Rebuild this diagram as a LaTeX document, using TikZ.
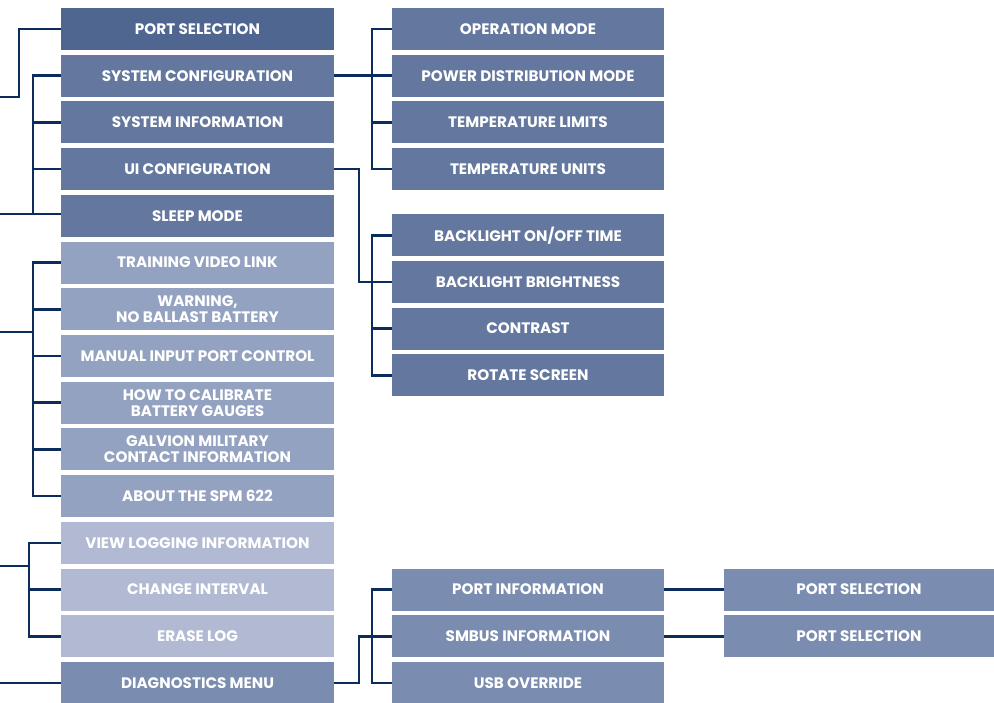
\documentclass[tikz,border=0pt]{standalone}
\usepackage{fontspec}
\setmainfont{Poppins}
\definecolor{cdark}{HTML}{4F6691}
\definecolor{cmed}{HTML}{64789F}
\definecolor{clight}{HTML}{94A2C2}
\definecolor{clightest}{HTML}{B2BAD3}
\definecolor{cdiag}{HTML}{7A8CB0}
\definecolor{navy}{HTML}{0C2C5E}
\tikzset{
  box/.style={minimum width=273pt, minimum height=42pt, inner sep=0pt, text=white,
    font=\bfseries\fontsize{15.2}{16}\selectfont, align=center},
  link/.style={draw=navy, line width=2.6pt},
}
\begin{document}
\begin{tikzpicture}[x=1pt,y=-1pt]
\useasboundingbox (0,0) rectangle (994,702);
% left column
\node[box,fill=cdark] (ps) at (197.5,29) {PORT SELECTION};
\node[box,fill=cmed] (sc) at (197.5,75.7) {SYSTEM CONFIGURATION};
\node[box,fill=cmed] (si) at (197.5,122.4) {SYSTEM INFORMATION};
\node[box,fill=cmed] (ui) at (197.5,169.1) {UI CONFIGURATION};
\node[box,fill=cmed] (sl) at (197.5,215.9) {SLEEP MODE};
\node[box,fill=clight] (tv) at (197.5,262.6) {TRAINING VIDEO LINK};
\node[box,fill=clight] (wn) at (197.5,309.3) {WARNING,\\NO BALLAST BATTERY};
\node[box,fill=clight] (mi) at (197.5,356) {MANUAL INPUT PORT CONTROL};
\node[box,fill=clight] (hc) at (197.5,402.7) {HOW TO CALIBRATE\\BATTERY GAUGES};
\node[box,fill=clight] (gm) at (197.5,449.4) {GALVION MILITARY\\CONTACT INFORMATION};
\node[box,fill=clight] (ab) at (197.5,496.1) {ABOUT THE SPM 622};
\node[box,fill=clightest] (vl) at (197.5,542.8) {VIEW LOGGING INFORMATION};
\node[box,fill=clightest] (ci) at (197.5,589.5) {CHANGE INTERVAL};
\node[box,fill=clightest] (el) at (197.5,636.2) {ERASE LOG};
\node[box,fill=cdiag] (dm) at (197.5,682.9) {DIAGNOSTICS MENU};
% right column
\node[box,fill=cmed,minimum width=272pt] (om) at (528,29) {OPERATION MODE};
\node[box,fill=cmed,minimum width=272pt] (pd) at (528,75.7) {POWER DISTRIBUTION MODE};
\node[box,fill=cmed,minimum width=272pt] (tl) at (528,122.4) {TEMPERATURE LIMITS};
\node[box,fill=cmed,minimum width=272pt] (tu) at (528,169.1) {TEMPERATURE UNITS};
\node[box,fill=cmed,minimum width=272pt] (bo) at (528,235.2) {BACKLIGHT ON/OFF TIME};
\node[box,fill=cmed,minimum width=272pt] (bb) at (528,281.9) {BACKLIGHT BRIGHTNESS};
\node[box,fill=cmed,minimum width=272pt] (ct) at (528,328.6) {CONTRAST};
\node[box,fill=cmed,minimum width=272pt] (rs) at (528,375.3) {ROTATE SCREEN};
\node[box,fill=cdiag,minimum width=272pt] (pi) at (528,589.5) {PORT INFORMATION};
\node[box,fill=cdiag,minimum width=272pt] (sm) at (528,636.2) {SMBUS INFORMATION};
\node[box,fill=cdiag,minimum width=272pt] (us) at (528,682.9) {USB OVERRIDE};
\node[box,fill=cdiag,minimum width=270pt] (pa) at (859,589.5) {PORT SELECTION};
\node[box,fill=cdiag,minimum width=270pt] (pb) at (859,636.2) {PORT SELECTION};
% free ends
\coordinate (e1) at (0,97);
\coordinate (e2) at (0,214);
\coordinate (e3) at (0,332);
\coordinate (e4) at (0,566);
\coordinate (e5) at (0,682.9);
\coordinate (b1) at (19,0);
\coordinate (b2) at (33,0);
\coordinate (b3) at (33,0);
\coordinate (b4) at (29,0);
\coordinate (j1) at (359,0);
\coordinate (b5) at (372,0);
% left connectors
\draw[link] (e1) -- (b1|-e1) |- (ps.west);
\draw[link] (sc.west) -| (b2|-e2);
\draw[link] (si.west) -- (b2|-si.west);
\draw[link] (ui.west) -- (b2|-ui.west);
\draw[link] (e2) -- (sl.west|-e2);
\draw[link] (tv.west) -| (b3|-ab.west) -- (ab.west);
\draw[link] (wn.west) -- (b3|-wn.west);
\draw[link] (mi.west) -- (b3|-mi.west);
\draw[link] (hc.west) -- (b3|-hc.west);
\draw[link] (gm.west) -- (b3|-gm.west);
\draw[link] (e3) -- (b3|-e3);
\draw[link] (vl.west) -| (b4|-el.west) -- (el.west);
\draw[link] (ci.west) -- (b4|-ci.west);
\draw[link] (e4) -- (b4|-e4);
\draw[link] (e5) -- (dm.west);
% right connectors
\draw[link] (sc.east) -- (b5|-sc.east);
\draw[link] (om.west) -| (b5|-tu.west) -- (tu.west);
\draw[link] (pd.west) -- (b5|-pd.west);
\draw[link] (tl.west) -- (b5|-tl.west);
\draw[link] (ui.east) -- (j1|-ui.east) |- (bb.west);
\draw[link] (bo.west) -| (b5|-rs.west) -- (rs.west);
\draw[link] (ct.west) -- (b5|-ct.west);
\draw[link] (dm.east) -- (j1|-dm.east) |- (sm.west);
\draw[link] (pi.west) -| (b5|-us.west) -- (us.west);
\draw[link] (pi.east) -- (pa.west);
\draw[link] (sm.east) -- (pb.west);
\end{tikzpicture}
\end{document}
